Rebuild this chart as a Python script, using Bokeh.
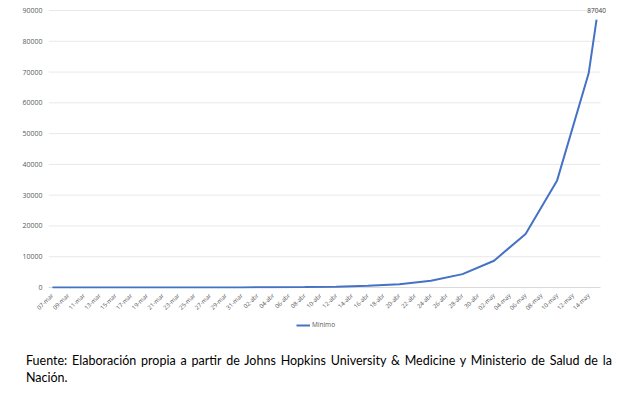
import pandas as pd
from math import pi
from bokeh.plotting import figure
from bokeh.layouts import column
from bokeh.models import (Range1d, FixedTicker, NumeralTickFormatter,
                          Label, Legend, LegendItem, Div)
from bokeh.embed import file_html
from bokeh.resources import INLINE

# Tick labels on the x axis (every other day)
fechas_eje = ["07-mar", "09-mar", "11-mar", "13-mar", "15-mar", "17-mar", "19-mar", "21-mar",
              "23-mar", "25-mar", "27-mar", "29-mar", "31-mar", "02-abr", "04-abr", "06-abr",
              "08-abr", "10-abr", "12-abr", "14-abr", "16-abr", "18-abr", "20-abr", "22-abr",
              "24-abr", "26-abr", "28-abr", "30-abr", "02-may", "04-may", "06-may", "08-may",
              "10-may", "12-may", "14-may"]

# Series "Mínimo"
fechas_datos = ["07-mar", "11-mar", "15-mar", "19-mar", "23-mar", "27-mar", "31-mar", "04-abr",
                "08-abr", "12-abr", "16-abr", "20-abr", "24-abr", "28-abr", "02-may", "06-may",
                "10-may", "14-may", "15-may"]
minimo = [1, 1, 2, 4, 8, 17, 34, 68, 136, 272, 544, 1090, 2180, 4350, 8700, 17400, 34800,
          69600, 87040]

# y axis ticks
y_ticks = [0, 10000, 20000, 30000, 40000, 50000, 60000, 70000, 80000, 90000]

serie_nombre = "Mínimo"
fuente = ("Fuente: Elaboración propia a partir de Johns Hopkins University & Medicine "
          "y Ministerio de Salud de la Nación.")

meses = {3: "mar", 4: "abr", 5: "may"}
dias = pd.date_range("2020-03-07", "2020-05-15")
dias_lbl = [f"{d.day:02d}-{meses[d.month]}" for d in dias]
idx = {l: i for i, l in enumerate(dias_lbl)}
xs = [idx[f] for f in fechas_datos]
ticks = [idx[f] for f in fechas_eje]

W = 617
plot_w = 552                      # width of the category band
px_day = plot_w / len(dias_lbl)
x0, x1 = -0.5, len(dias_lbl) - 0.5
extra_right = 12                   # room for the data label
px_val = 277 / 90000

p = figure(width=W, height=321, output_backend="svg", toolbar_location=None,
           x_range=Range1d(x0, x1 + extra_right / px_day),
           y_range=Range1d(-1 / px_val, 287 / px_val),
           min_border_left=48, min_border_right=5, min_border_top=0, min_border_bottom=33)
p.outline_line_color = None
p.background_fill_color = "white"

gray = "#595959"
for ax in (p.xaxis[0], p.yaxis[0]):
    ax.axis_line_color = None
    ax.major_tick_line_color = None
    ax.minor_tick_line_color = None
    ax.major_tick_out = 0
    ax.major_tick_in = 0
    ax.minor_tick_out = 0
    ax.minor_tick_in = 0
    ax.major_label_text_font = "Open Sans"
    ax.major_label_text_color = gray

# y axis
p.yaxis.ticker = FixedTicker(ticks=y_ticks)
p.yaxis.formatter = NumeralTickFormatter(format="0")
p.yaxis.major_label_text_font_size = "7px"
p.yaxis.major_label_standoff = 6

# x axis
p.xaxis.ticker = FixedTicker(ticks=ticks)
p.xaxis.major_label_overrides = {idx[f]: f for f in fechas_eje}
p.xaxis.major_label_orientation = pi / 4
p.xaxis.major_label_text_font_size = "6px"
p.xaxis.major_label_standoff = 6

p.grid.visible = False
# horizontal gridlines over the category band only
p.segment(x0=[x0] * len(y_ticks), x1=[x1] * len(y_ticks), y0=y_ticks, y1=y_ticks,
          line_color=["#d9d9d9"] + ["#e8e8e8"] * (len(y_ticks) - 1), line_width=1)

r = p.line(xs, minimo, line_color="#4472C4", line_width=2)

# data label on last point
p.add_layout(Label(x=xs[-1], y=minimo[-1], text=f"{minimo[-1]}", text_align="center",
                   text_baseline="middle", y_offset=9, text_font="Open Sans",
                   text_font_size="6.5px", text_color="#404040"))

# legend strip
p2 = figure(width=W, height=12, output_backend="svg", toolbar_location=None,
            x_range=Range1d(0, 1), y_range=Range1d(0, 1),
            min_border_left=48, min_border_right=5, min_border_top=0, min_border_bottom=0)
p2.axis.visible = False
p2.grid.visible = False
p2.outline_line_color = None
key = p2.line([-1], [-1], line_color="#4472C4", line_width=2)
legend = Legend(items=[LegendItem(label=serie_nombre, renderers=[key])], location=(248, 4),
                orientation="horizontal", border_line_alpha=0, background_fill_alpha=0,
                label_text_font="Open Sans", label_text_font_size="6.5px",
                label_text_color=gray, glyph_width=14, glyph_height=8, padding=0, margin=0,
                label_standoff=2, label_height=8)
p2.add_layout(legend)

nota = Div(text=(f'<div style="margin-left:21px; width:586px; padding-top:14px; '
                 f'text-align:justify; font-family:Lato; font-size:12.5px; '
                 f'line-height:17px; color:#000;">{fuente}</div>'),
           width=W, height=60)

layout = column(p, p2, nota, spacing=0)
open("out.html", "w").write(file_html(layout, INLINE))
